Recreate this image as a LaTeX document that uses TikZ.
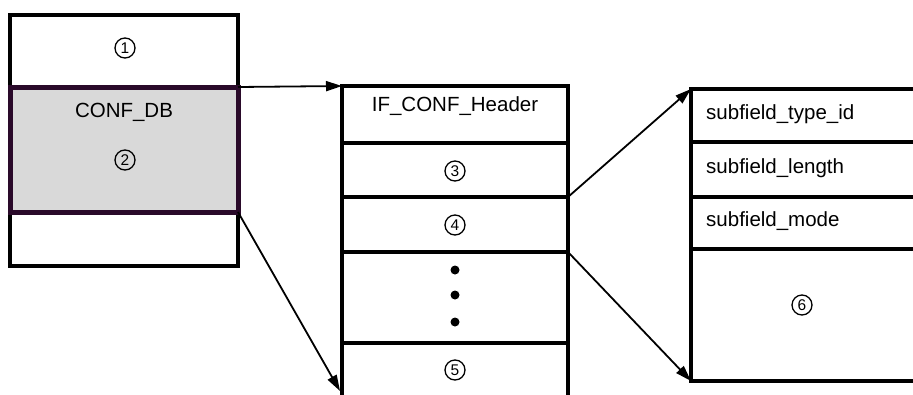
\documentclass[tikz,border=0pt]{standalone}
\usepackage{fontspec}
\setmainfont{Liberation Sans}
\usetikzlibrary{arrows.meta}
\definecolor{grayfill}{HTML}{D9D9D9}
\definecolor{darkpurple}{HTML}{2A0A2A}
\begin{document}
\begin{tikzpicture}[x=1pt,y=-1pt,
  cell/.style={draw=black, line width=4pt, minimum width=#1, anchor=north west, inner sep=0pt, outer sep=0pt},
  txt/.style={font=\fontsize{20.5}{24}\selectfont, inner sep=0pt},
  circ/.style={circle, draw=black, line width=1.3pt, minimum size=20pt, inner sep=0pt, font=\fontsize{15.5}{17}\selectfont},
  conn/.style={line width=1.8pt, -{Triangle[length=16pt,width=10pt]}},
  dotmark/.style={circle, fill=black, inner sep=0pt, minimum size=9pt}]
\useasboundingbox (0,0) rectangle (913,394);
\clip (0,0) rectangle (913,394);
% left box
\node[cell=228pt, minimum height=251pt] (left) at (10,15) {};
\node[cell=228pt, minimum height=125pt, fill=grayfill, draw=darkpurple, line width=5pt] (conf) at (10,87) {};
\node[circ] (n1) at (125,48) {1};
\node[txt] (confdb) at (124,112) {CONF\_DB};
\node[circ] (n2) at (125,160) {2};
% middle box
\node[cell=226pt, minimum height=57pt] (hdr) at (342,86) {};
\node[cell=226pt, minimum height=54pt] (m3) at (342,143) {};
\node[cell=226pt, minimum height=55pt] (m4) at (342,197) {};
\node[cell=226pt, minimum height=91pt] (mdots) at (342,252) {};
\node[cell=226pt, minimum height=80pt] (m5) at (342,343) {};
\node[txt] (hdrtxt) at (455,106) {IF\_CONF\_Header};
\node[circ] (n3) at (455,171) {3};
\node[circ] (n4) at (455,225) {4};
\node[dotmark] (d1) at (455,270) {};
\node[dotmark] (d2) at (455,295) {};
\node[dotmark] (d3) at (455,322) {};
\node[circ] (n5) at (455,370) {5};
% right box
\node[cell=240pt, minimum height=53pt] (r1) at (691,89) {};
\node[cell=240pt, minimum height=55pt] (r2) at (691,142) {};
\node[cell=240pt, minimum height=52pt] (r3) at (691,197) {};
\node[cell=240pt, minimum height=132pt] (r4) at (691,249) {};
\node[txt, anchor=west] (t1) at (706,114) {subfield\_type\_id};
\node[txt, anchor=west] (t2) at (706,168) {subfield\_length};
\node[txt, anchor=west] (t3) at (706,221) {subfield\_mode};
\node[circ] (n6) at (802,305) {6};
% connectors
\coordinate (endlow) at (340,391);
\draw[conn] (conf.north east) -- (hdr.north west);
\draw[conn] (conf.south east) -- (endlow);
\draw[conn] (m4.north east) -- (r1.north west);
\draw[conn] (m4.south east) -- (r4.south west);
\end{tikzpicture}
\end{document}
